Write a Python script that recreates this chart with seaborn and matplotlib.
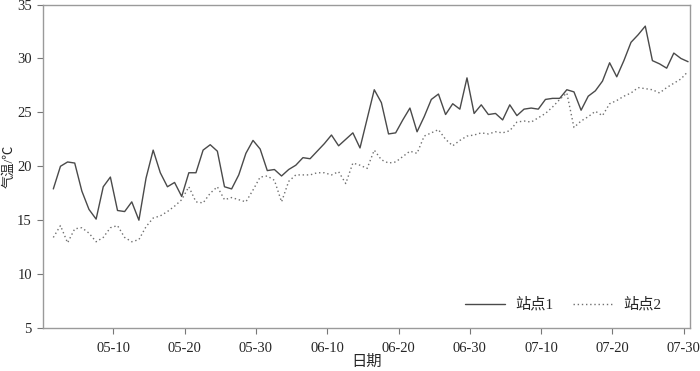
import numpy as np
import pandas as pd
import matplotlib
matplotlib.use('Agg')
import matplotlib.pyplot as plt
import seaborn as sns

# 日均气温，共90天
site1 = [17.9, 20.0, 20.4, 20.3, 17.7, 16.0, 15.1, 18.1, 19.0, 15.9,
         15.8, 16.7, 15.0, 18.9, 21.5, 19.4, 18.1, 18.5, 17.2, 19.4,
         19.4, 21.5, 22.0, 21.4, 18.1, 17.9, 19.2, 21.2, 22.4, 21.6,
         19.6, 19.7, 19.1, 19.7, 20.1, 20.8, 20.7, 21.4, 22.1, 22.9,
         21.9, 22.5, 23.1, 21.7, 24.4, 27.1, 25.9, 23.0, 23.1, 24.3,
         25.4, 23.2, 24.6, 26.2, 26.7, 24.8, 25.8, 25.3, 28.2, 24.9,
         25.7, 24.8, 24.9, 24.3, 25.7, 24.7, 25.3, 25.4, 25.3, 26.2,
         26.3, 26.3, 27.1, 26.9, 25.2, 26.5, 27.0, 27.9, 29.6, 28.3,
         29.8, 31.5, 32.2, 33.0, 29.8, 29.5, 29.1, 30.5, 30.0, 29.7]
site2 = [13.4, 14.5, 12.9, 14.2, 14.3, 13.8, 13.0, 13.4, 14.3, 14.5,
         13.4, 13.0, 13.2, 14.4, 15.2, 15.4, 15.8, 16.3, 16.9, 18.1,
         16.7, 16.6, 17.5, 18.1, 16.9, 17.1, 16.9, 16.7, 17.8, 19.0,
         19.1, 18.7, 16.7, 18.6, 19.2, 19.2, 19.2, 19.4, 19.4, 19.2,
         19.5, 18.4, 20.3, 20.1, 19.8, 21.5, 20.6, 20.3, 20.4, 20.9,
         21.4, 21.2, 22.8, 23.1, 23.4, 22.5, 21.9, 22.4, 22.8, 22.9,
         23.1, 23.0, 23.2, 23.1, 23.3, 24.1, 24.2, 24.1, 24.5, 24.9,
         25.5, 26.2, 26.8, 23.6, 24.2, 24.6, 25.1, 24.7, 25.8, 26.1,
         26.5, 26.8, 27.3, 27.2, 27.1, 26.8, 27.3, 27.7, 28.1, 28.8]
tick_labels = ['05-10', '05-20', '05-30', '06-10', '06-20',
               '06-30', '07-10', '07-20', '07-30']

day = np.arange(len(site1))
df = pd.DataFrame({
    '日期': np.concatenate([day, day]),
    '气温': site1 + site2,
    '站点': ['站点1'] * len(site1) + ['站点2'] * len(site2),
})

sns.set_style('ticks')
plt.rcParams['font.family'] = ['Liberation Serif', 'Noto Sans CJK SC']
plt.rcParams['axes.unicode_minus'] = False

fig = plt.figure(figsize=(7, 3.71), dpi=100)
ax = fig.add_axes([0.0614, 0.1159, 0.9236, 0.8718])

sns.lineplot(data=df, x='日期', y='气温', hue='站点', style='站点',
             palette={'站点1': '#4a4a4a', '站点2': '#707070'},
             dashes={'站点1': '', '站点2': (1, 2)},
             linewidth=1.0, ax=ax)

ax.set_xlim(-1.45, 89.2)
ax.set_ylim(5, 35)
ax.set_yticks(range(5, 36, 5))
ax.set_xticks([8.4 + 10 * i for i in range(len(tick_labels))])
ax.set_xticklabels(tick_labels)
ax.tick_params(labelsize=10.5, length=4, width=0.8, color='#777777',
               direction='out')
ax.tick_params(axis='x', pad=6)
ax.tick_params(axis='y', pad=4)
for sp in ax.spines.values():
    sp.set_color('#9a9a9a')
    sp.set_linewidth(1.0)

ax.set_xlabel('日期', fontsize=11, labelpad=0)
ax.set_ylabel('气温/℃', fontsize=9.5)
ax.yaxis.set_label_coords(-0.043, 0.5)

leg = ax.legend(loc='center', bbox_to_anchor=(0.805, 0.072), ncol=2,
                frameon=False, fontsize=11, handlelength=2.6,
                columnspacing=1.3, handletextpad=0.7)
leg.set_title(None)

fig.savefig('out.png', dpi=100)
